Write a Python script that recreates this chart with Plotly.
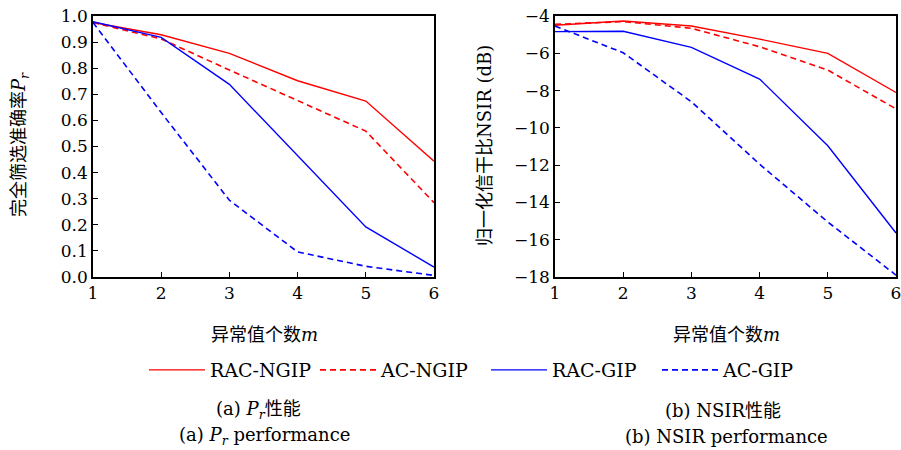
import plotly.graph_objects as go

m = [1, 2, 3, 4, 5, 6]

pr_rac_ngip = [0.975, 0.928, 0.857, 0.752, 0.674, 0.444]
pr_ac_ngip = [0.975, 0.912, 0.793, 0.676, 0.559, 0.285]
pr_rac_gip = [0.978, 0.918, 0.738, 0.467, 0.192, 0.038]
pr_ac_gip = [0.975, 0.630, 0.294, 0.096, 0.041, 0.006]

nsir_rac_ngip = [-4.50, -4.27, -4.54, -5.24, -6.00, -8.10]
nsir_ac_ngip = [-4.45, -4.30, -4.66, -5.65, -6.90, -8.98]
nsir_rac_gip = [-4.84, -4.82, -5.68, -7.38, -10.96, -15.64]
nsir_ac_gip = [-4.54, -5.97, -8.60, -11.95, -15.05, -17.90]

names = ["RAC-NGIP", "AC-NGIP", "RAC-GIP", "AC-GIP"]
colors = ["#ff0000", "#ff0000", "#0000ff", "#0000ff"]
dashes = ["solid", "6px,4px", "solid", "6px,4px"]

pr_series = [pr_rac_ngip, pr_ac_ngip, pr_rac_gip, pr_ac_gip]
nsir_series = [nsir_rac_ngip, nsir_ac_ngip, nsir_rac_gip, nsir_ac_gip]

FONT = "DejaVu Serif, Noto Sans CJK SC, serif"
TICK_FS = 17
FS = 18

fig = go.Figure()
for i in range(4):
    fig.add_trace(go.Scatter(
        x=m, y=pr_series[i], mode="lines", name=names[i],
        line=dict(color=colors[i], width=1.4 if dashes[i] == "solid" else 1.6, dash=dashes[i]),
        xaxis="x", yaxis="y", showlegend=True))
for i in range(4):
    fig.add_trace(go.Scatter(
        x=m, y=nsir_series[i], mode="lines", name=names[i],
        line=dict(color=colors[i], width=1.4 if dashes[i] == "solid" else 1.6, dash=dashes[i]),
        xaxis="x2", yaxis="y2", showlegend=False))

axis_common = dict(
    showline=True, linecolor="black", linewidth=1.5, mirror=True,
    ticks="inside", ticklen=5, tickcolor="black", tickwidth=1,
    showgrid=False, zeroline=False, automargin=False, ticklabeloverflow="allow",
    tickfont=dict(family=FONT, size=TICK_FS, color="black"),
)

def ann(text, x, y, angle=0, size=FS):
    return dict(text=text, x=x / 901, y=1 - y / 450, xref="paper", yref="paper",
                xanchor="center", yanchor="middle", textangle=angle,
                showarrow=False, font=dict(family=FONT, size=size, color="black"))

fig.update_layout(
    width=901, height=450,
    margin=dict(l=0, r=0, t=0, b=0),
    paper_bgcolor="white", plot_bgcolor="white",
    font=dict(family=FONT, size=FS, color="black"),
    xaxis=dict(domain=[93 / 901, 434 / 901], range=[1, 6], dtick=1, anchor="y", **axis_common),
    yaxis=dict(domain=[1 - 277 / 450, 1 - 16 / 450], range=[0, 1], dtick=0.1, tickformat=".1f",
               anchor="x", **axis_common),
    xaxis2=dict(domain=[555 / 901, 896 / 901], range=[1, 6], dtick=1, anchor="y2", **axis_common),
    yaxis2=dict(domain=[1 - 277 / 450, 1 - 16 / 450], range=[-18, -4], dtick=2, anchor="x2",
                **axis_common),
    legend=dict(orientation="h", x=144 / 901, xanchor="left", y=1 - 370 / 450, yanchor="middle",
                font=dict(family=FONT, size=19), bgcolor="rgba(0,0,0,0)",
                entrywidth=100, entrywidthmode="pixels", itemwidth=56, tracegroupgap=0),
    annotations=[
        ann("异常值个数<i>m</i>", 264, 334),
        ann("异常值个数<i>m</i>", 726, 334),
        ann("完全筛选准确率<i>P<sub>r</sub></i>", 20, 145, angle=-90),
        ann("归一化信干比NSIR (dB)", 484, 146, angle=-90),
        ann("(a) <i>P<sub>r</sub></i>性能", 258, 410),
        ann("(a) <i>P<sub>r</sub></i> performance", 264, 436),
        ann("(b) NSIR性能", 723, 410),
        ann("(b) NSIR performance", 726, 436),
    ],
)

fig.write_html("out.html", config={"displayModeBar": False},
               post_script="document.body.style.margin='0';")
